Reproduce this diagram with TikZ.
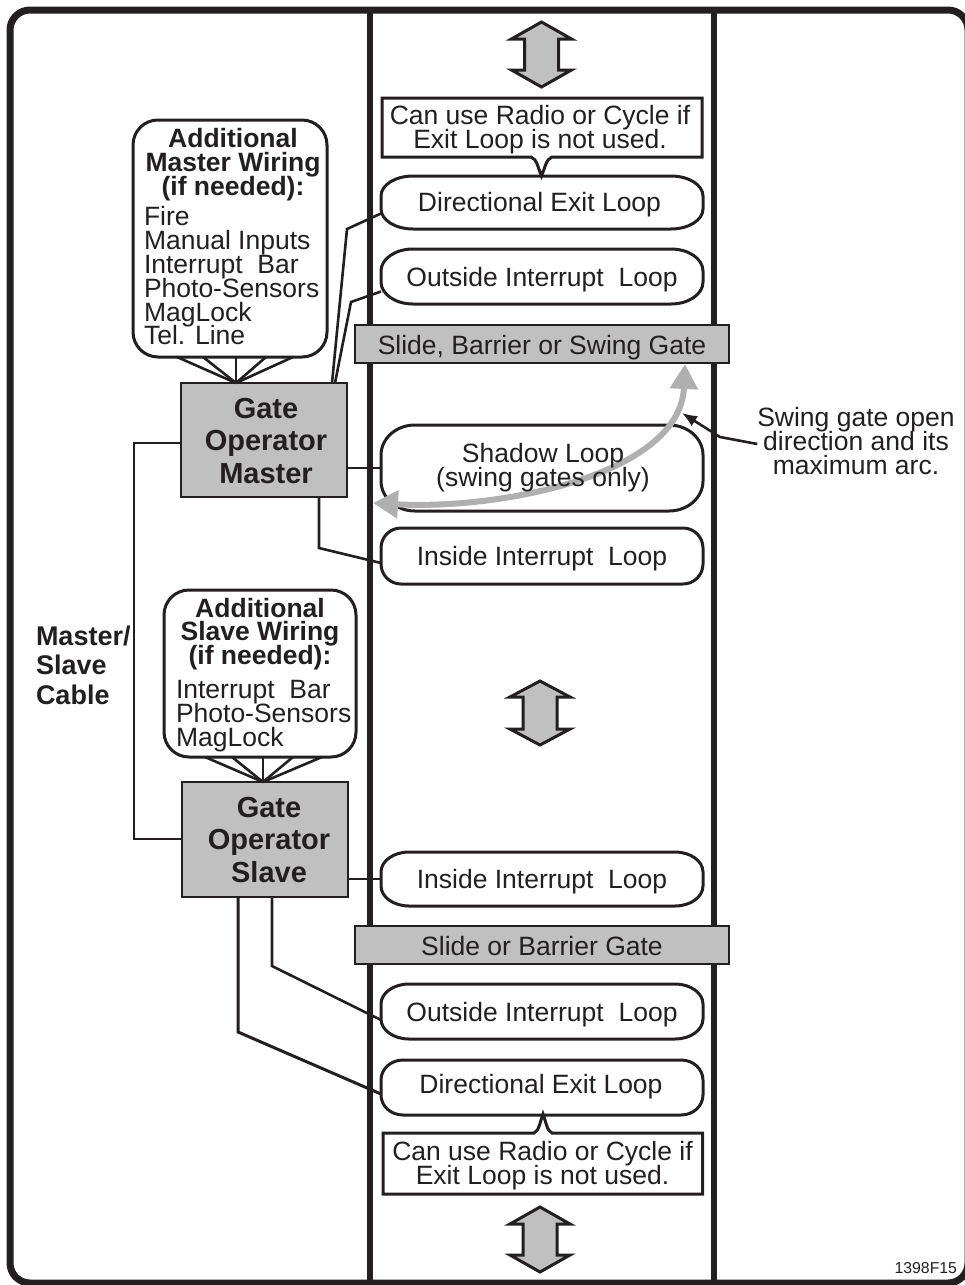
\documentclass[tikz,border=0pt]{standalone}
\usepackage{fontspec}
\setmainfont{Liberation Sans}
\usetikzlibrary{arrows.meta}
\definecolor{ink}{HTML}{231F20}
\definecolor{panel}{HTML}{C0C0C0}
\definecolor{arcgray}{HTML}{B0B0B0}
\lineskiplimit=-100pt
\tikzset{
  every node/.style={text=ink,inner sep=0pt,outer sep=0pt},
  reg/.style={font=\fontsize{26.5}{23.8}\selectfont},
  bld/.style={font=\bfseries\fontsize{26.5}{23.8}\selectfont},
  frameline/.style={draw=ink,line width=7pt},
  wire/.style={draw=ink,line width=2.6pt},
  outline/.style={draw=ink,line width=3pt,fill=white},
  dbl/.style={draw=ink,line width=3pt,fill=panel,miter limit=6},
  loopnode/.style={reg,text height=19pt,text depth=0pt},
  gatebar/.style={draw=ink,line width=2.6pt,fill=panel,font=\fontsize{26.5}{24}\selectfont,text height=21pt,text depth=0pt},
  opbox/.style={draw=ink,line width=2.6pt,fill=panel},
  optext/.style={align=center,font=\bfseries\fontsize{29}{32.8}\selectfont},
  spike/.style={draw=ink,line width=2.6pt},
}
% name, cx, cy, w, h, a, b, text
\newcommand\loopbox[8]{%
  \node[loopnode,minimum width=#4pt,minimum height=#5pt] (#1) at (#2,#3) {};
  \draw[outline] ([xshift=-#6pt]#1.north east) arc[start angle=90,end angle=0,x radius=#6pt,y radius=#7pt]
    -- ([yshift=#7pt]#1.south east) arc[start angle=0,end angle=-90,x radius=#6pt,y radius=#7pt]
    -- ([xshift=#6pt]#1.south west) arc[start angle=-90,end angle=-180,x radius=#6pt,y radius=#7pt]
    -- ([yshift=-#7pt]#1.north west) arc[start angle=180,end angle=90,x radius=#6pt,y radius=#7pt]
    -- cycle;
  \node[loopnode,minimum width=#4pt,minimum height=#5pt] at (#1.center) {#8};
}
\begin{document}
\begin{tikzpicture}[x=1pt,y=-1pt]
\useasboundingbox (0,0) rectangle (964,1285);

% frame and road edges
\draw[frameline,rounded corners=20pt] (10,10) rectangle (968,1283);
\draw[frameline,line width=6.5pt] (370,10) -- (370,1283);
\draw[frameline,line width=6.5pt] (714,10) -- (714,1283);

% double arrows
\draw[dbl,shift={(541.5,22)}] (0,0)--(30,17)--(17,17)--(17,48)--(30,48)--(0,65)--(-30,48)--(-17,48)--(-17,17)--(-30,17)--cycle;
\draw[dbl,shift={(540,681)}] (0,0)--(30,16)--(17,16)--(17,48)--(30,48)--(0,64)--(-30,48)--(-17,48)--(-17,16)--(-30,16)--cycle;
\draw[dbl,shift={(540,1207)}] (0,0)--(30,17)--(17,17)--(17,48)--(30,48)--(0,65)--(-30,48)--(-17,48)--(-17,17)--(-30,17)--cycle;

% loops
\loopbox{exitA}{542}{202.5}{322}{53}{32}{20}{}
\node[loopnode] (exitAtext) at (539.5,202) {Directional Exit Loop};
\loopbox{outA}{542}{276.5}{322}{55}{32}{22}{Outside Interrupt\ \ Loop}
\loopbox{shadow}{542}{468}{322}{86}{34}{30}{}
\loopbox{inA}{542}{556}{322}{56}{20}{20}{Inside Interrupt\ \ Loop}
\loopbox{inB}{542}{879}{322}{54}{28}{20}{Inside Interrupt\ \ Loop}
\loopbox{outB}{542}{1011.5}{322}{55}{28}{20}{Outside Interrupt\ \ Loop}
\loopbox{exitB}{542}{1087.5}{322}{55}{22}{20}{}
\node[loopnode] (exitBtext) at (541,1084) {Directional Exit Loop};

% gate bars
\node[gatebar,minimum width=374pt,minimum height=38pt] (gateA) at (542,344) {Slide, Barrier or Swing Gate};
\node[gatebar,minimum width=374pt,minimum height=38pt] (gateB) at (542,945) {Slide or Barrier Gate};

% callouts
\draw[outline] (382,98) -- (702,98) -- (702,157) -- (552,157)
  .. controls (546,159) and (545,168) .. (541.5,176)
  .. controls (538,168) and (537,159) .. (531,157) -- (382,157) -- cycle;
\node[reg,align=center] (noteA) at (540,129.6) {Can use Radio or Cycle if\\Exit Loop is not used.};
\draw[outline] (383,1133) -- (534,1133)
  .. controls (539,1131) and (540,1122) .. (543,1114)
  .. controls (546,1122) and (547,1131) .. (552,1133)
  -- (702.5,1133) -- (702.5,1194) -- (383,1194) -- cycle;
\node[reg,align=center] (noteB) at (542.5,1165.5) {Can use Radio or Cycle if\\Exit Loop is not used.};

% operator boxes
\node[opbox,minimum width=166pt,minimum height=114pt] (master) at (264,440) {};
\node[optext] (mastertext) at (266,441) {Gate\\Operator\\Master};
\node[opbox,minimum width=166pt,minimum height=115pt] (slave) at (265,839.5) {};
\node[optext] (slavetext) at (269,840) {Gate\\Operator\\Slave};

% wiring bubbles
\node[outline,rounded corners=25pt,minimum width=194pt,minimum height=237pt] (bubA) at (230,238.5) {};
\node[outline,rounded corners=25pt,minimum width=192pt,minimum height=167pt] (bubB) at (260,673.5) {};
\node[bld,align=center] (titleA) at (233,164.8) {Additional\\Master Wiring\\(if needed):};
\node[reg,align=left,anchor=west] (listA) at (144,276) {Fire\\Manual Inputs\\Interrupt\ \ Bar\\Photo-Sensors\\MagLock\\Tel. Line};
\node[bld,align=center] (titleB) at (260,634) {Additional\\Slave Wiring\\(if needed):};
\node[reg,align=left,anchor=west] (listB) at (176,716) {Interrupt\ \ Bar\\Photo-Sensors\\MagLock};

% spikes
\foreach \dx in {-53,-27,6,36,63}
  \draw[spike] ([xshift=\dx pt]bubA.south) -- ([xshift=-28pt]master.north);
\foreach \dx in {-55,-28,3,33,62}
  \draw[spike] ([xshift=\dx pt]bubB.south) -- ([xshift=-2pt]slave.north);

% connectors
\coordinate (m1) at (347,229);
\coordinate (m2) at (351,302);
\coordinate (m3) at (319,548);
\coordinate (ms1) at (134,443);
\coordinate (ms2) at (134,839);
\coordinate (s1) at (272,966);
\coordinate (s2) at (238,1032);
\draw[wire] ([xshift=-15pt]master.north east) -- (m1) -- ([yshift=-11pt]exitA.west);
\draw[wire] ([xshift=-12pt]master.north east) -- (m2) -- ([yshift=-15pt]outA.west);
\draw[wire] (master.east |- shadow.west) -- (shadow.west);
\draw[wire] ([xshift=55pt]master.south) -- (m3) -- ([yshift=-7pt]inA.west);
\draw[wire] (master.west |- ms1) -- (ms1) -- (ms2) -- (slave.west |- ms2);
\draw[wire] (slave.east |- inB.west) -- (inB.west);
\draw[wire] ([xshift=7pt]slave.south) -- (s1) -- ([yshift=-8.5pt]outB.west);
\draw[wire,line width=3pt] ([xshift=-27pt]slave.south) -- (s2) -- ([yshift=-6.5pt]exitB.west);

% swing arc
\coordinate (arcL) at (373,503);
\coordinate (arcR) at (685,364);
\draw[arcgray,line width=6pt,{Triangle[length=25pt,width=27pt]}-{Triangle[length=25pt,width=27pt]}]
  (arcL) .. controls (500,510) and (680,475) .. (arcR);
\node[reg,align=center] (shadowtext) at (543,467.3) {Shadow Loop\\(swing gates only)};

% labels
\node[reg,align=center,font=\fontsize{26.5}{24}\selectfont] (swing) at (856,441.5) {Swing gate open\\direction and its\\maximum arc.};
\coordinate (sw1) at (720,437);
\draw[wire,-{Latex[length=15pt,width=12pt]}] (swing.west |- 757,444) -- (sw1) -- (682,413);
\node[align=left,anchor=west,font=\bfseries\fontsize{27}{29.5}\selectfont] (cable) at (36,665) {Master/\\Slave\\Cable};
\node[anchor=base east,font=\fontsize{15.8}{18}\selectfont] (figno) at (957,1273) {1398F15};
\end{tikzpicture}
\end{document}
